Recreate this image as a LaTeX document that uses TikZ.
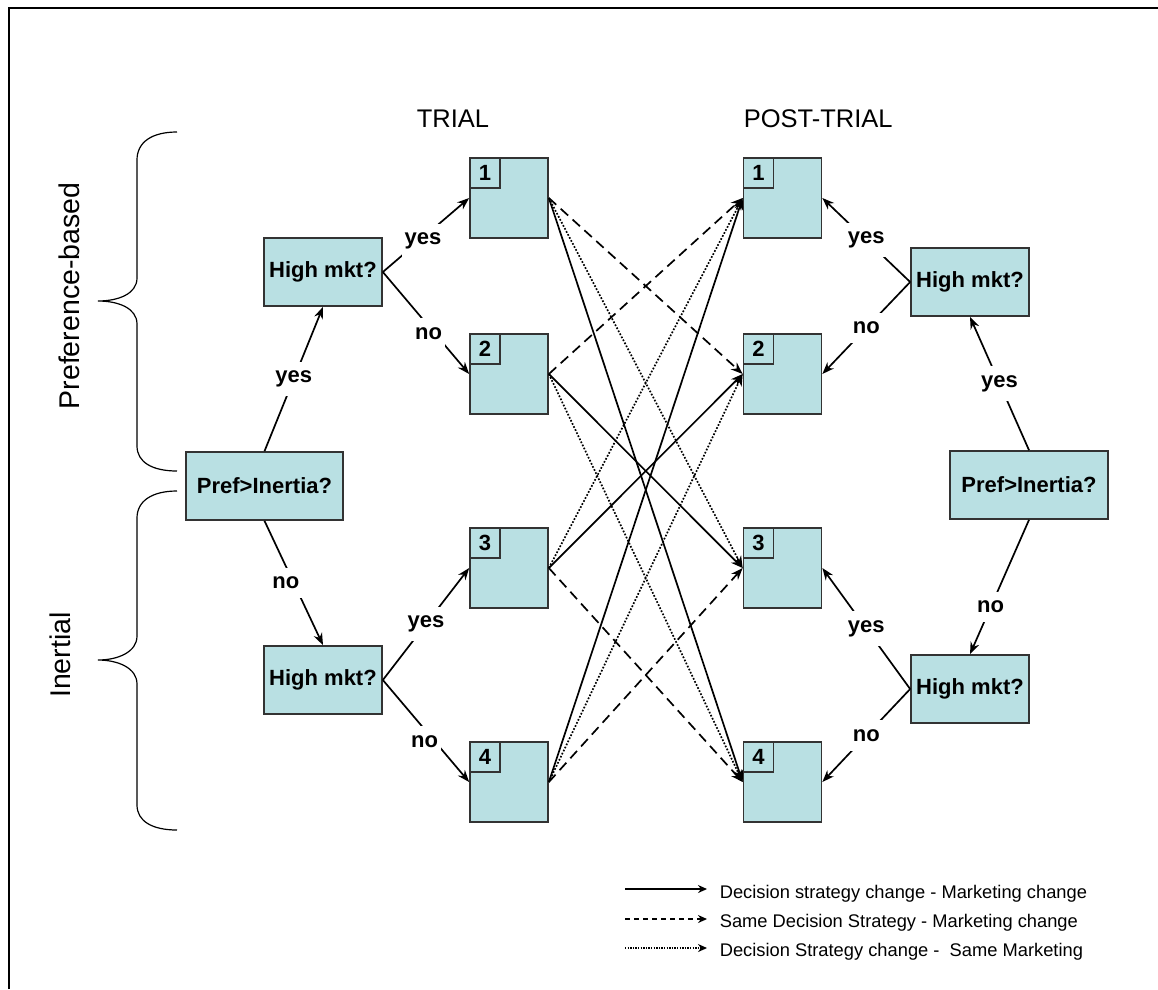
\documentclass[tikz,border=0pt]{standalone}
\usepackage{fontspec}
\setmainfont{Liberation Sans}
\usepackage{xcolor}
\usetikzlibrary{positioning,arrows.meta}

\definecolor{boxfill}{RGB}{185,224,227}

\begin{document}
\begin{tikzpicture}[x=1pt,y=-1pt,->,>={Stealth[length=12pt,width=9pt]},
                    line width=1.7pt,
                    every node/.style={font=\bfseries\fontsize{22}{26}\selectfont},
                    qbox/.style={draw=black!80,fill=boxfill,minimum width=118pt,
                                 minimum height=68pt,inner sep=0pt},
                    cbox/.style={draw=black!80,fill=boxfill,minimum width=78pt,
                                 minimum height=80pt,inner sep=0pt},
                    numbox/.style={draw=black!80,fill=boxfill,minimum size=30pt,
                                   inner sep=0pt,anchor=north west},
                    lbl/.style={fill=white,inner xsep=3pt,inner ysep=9pt},
                    samestrat/.style={dash pattern=on 10pt off 6pt},
                    samemkt/.style={dash pattern=on 1.7pt off 1.7pt},
                    heading/.style={font=\fontsize{25.5}{30}\selectfont,anchor=base west,
                                    inner sep=0pt},
                    side/.style={font=\fontsize{28.5}{34}\selectfont,rotate=90},
                    legtxt/.style={font=\fontsize{18.3}{22}\selectfont,anchor=base west,
                                   inner sep=0pt}]
    \useasboundingbox (0,0) rectangle (1158,989);
    \draw[-,line width=1.8pt] (9,989) -- (9,8) -- (1158,8);

    % trial / post-trial states
    \node[cbox] (t1) at (509,198) {};
    \node[cbox] (t2) at (509,374) {};
    \node[cbox] (t3) at (509,568) {};
    \node[cbox] (t4) at (509,782) {};
    \node[numbox] at (t1.north west) {1};
    \node[numbox] at (t2.north west) {2};
    \node[numbox] at (t3.north west) {3};
    \node[numbox] at (t4.north west) {4};
    \node[cbox] (p1) at (782.5,198) {};
    \node[cbox] (p2) at (782.5,374) {};
    \node[cbox] (p3) at (782.5,568) {};
    \node[cbox] (p4) at (782.5,782) {};
    \node[numbox] at (p1.north west) {1};
    \node[numbox] at (p2.north west) {2};
    \node[numbox] at (p3.north west) {3};
    \node[numbox] at (p4.north west) {4};

    \node[heading] (trial) at (416,127) {TRIAL};
    \node[heading] (post) at (743,127) {POST-TRIAL};

    % decision trees
    \node[qbox,minimum width=157pt] (prefL) at (264.5,486) {Pref>Inertia?};
    \node[qbox] (mktLU) at (323,272) {High mkt?};
    \node[qbox] (mktLL) at (323,680) {High mkt?};
    \node[qbox,minimum width=158pt] (prefR) at (1029,485) {Pref>Inertia?};
    \node[qbox] (mktRU) at (970,282) {High mkt?};
    \node[qbox] (mktRL) at (970,689) {High mkt?};

    \path (prefL.north) edge node[lbl] {yes} (mktLU.south)
          (prefL.south) edge node[lbl,xshift=-8pt] {no} (mktLL.north)
          (mktLU.east) edge node[lbl,yshift=-6pt,xshift=-3pt] {yes} (t1.west)
          (mktLU.east) edge node[lbl,pos=0.6,xshift=-6pt] {no} (t2.west)
          (mktLL.east) edge node[lbl] {yes} (t3.west)
          (mktLL.east) edge node[lbl,pos=0.6,xshift=-10pt] {no} (t4.west);

    \path (prefR.north) edge node[lbl] {yes} (mktRU.south)
          (prefR.south) edge node[lbl,pos=0.65] {no} (mktRL.north)
          (mktRU.west) edge node[lbl] {yes} (p1.east)
          (mktRU.west) edge node[lbl] {no} (p2.east)
          (mktRL.west) edge node[lbl] {yes} (p3.east)
          (mktRL.west) edge node[lbl] {no} (p4.east);

    % transitions
    \path (t1.east) edge[samestrat] (p2.west)
          (t1.east) edge[samemkt] (p3.west)
          (t1.east) edge (p4.west)
          (t2.east) edge[samestrat] (p1.west)
          (t2.east) edge (p3.west)
          (t2.east) edge[samemkt] (p4.west)
          (t3.east) edge[samemkt] (p1.west)
          (t3.east) edge (p2.west)
          (t3.east) edge[samestrat] (p4.west)
          (t4.east) edge (p1.west)
          (t4.east) edge[samemkt] (p2.west)
          (t4.east) edge[samestrat] (p3.west);

    % braces
    \draw[-,line width=1.2pt] (177,132) .. controls (152,132) and (137,142) .. (137,160)
        -- (137,278) .. controls (137,294) and (118,301) .. (98,301)
        .. controls (118,301) and (137,308) .. (137,324)
        -- (137,446) .. controls (137,462) and (152,471) .. (177,471);
    \draw[-,line width=1.2pt] (177,491) .. controls (152,491) and (137,501) .. (137,518)
        -- (137,636) .. controls (137,652) and (118,660) .. (98,660)
        .. controls (118,660) and (137,668) .. (137,684)
        -- (137,805) .. controls (137,821) and (152,830) .. (177,830);
    \node[side] (prefgrp) at (69,296) {Preference-based};
    \node[side] (inertgrp) at (60,655) {Inertial};

    % legend
    \coordinate (lgA1) at (625,889);
    \coordinate (lgB1) at (707,889);
    \coordinate (lgA2) at (625,919);
    \coordinate (lgB2) at (707,919);
    \coordinate (lgA3) at (625,948);
    \coordinate (lgB3) at (707,948);
    \draw[>={Stealth[length=9pt,width=8pt]},line width=1.5pt] (lgA1) -- (lgB1);
    \draw[>={Stealth[length=9pt,width=8pt]},line width=1.5pt,dash pattern=on 5pt off 4pt] (lgA2) -- (lgB2);
    \draw[>={Stealth[length=9pt,width=8pt]},line width=1.5pt,dash pattern=on 1.3pt off 1.3pt] (lgA3) -- (lgB3);
    \node[legtxt] (leg1) at (719,898) {Decision strategy change - Marketing change};
    \node[legtxt] (leg2) at (719,927) {Same Decision Strategy - Marketing change};
    \node[legtxt] (leg3) at (719,956) {Decision Strategy change -\ \ Same Marketing};
\end{tikzpicture}
\end{document}
